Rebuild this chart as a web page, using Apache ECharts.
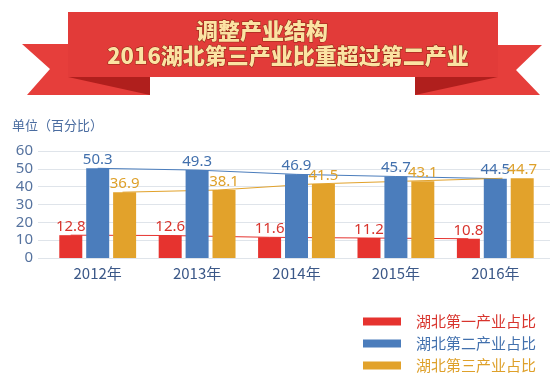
<!DOCTYPE html>
<html>
<head>
<meta charset="utf-8">
<script src="https://cdn.jsdelivr.net/npm/echarts@6/dist/echarts.min.js"></script>
<style>
html,body{margin:0;padding:0;background:#fff;}
#chart{width:550px;height:391px;}
</style>
</head>
<body>
<div id="chart"></div>
<script>
var categories = ['2012年', '2013年', '2014年', '2015年', '2016年'];
var primary = [12.8, 12.6, 11.6, 11.2, 10.8];
var secondary = [50.3, 49.3, 46.9, 45.7, 44.5];
var tertiary = [36.9, 38.1, 41.5, 43.1, 44.7];
var seriesNames = ['湖北第一产业占比', '湖北第二产业占比', '湖北第三产业占比'];
var yTicks = [0, 10, 20, 30, 40, 50, 60];
var titleLine1 = '调整产业结构';
var titleLine2 = '2016湖北第三产业比重超过第二产业';
var unitLabel = '单位（百分比）';

var RED = '#e6332f', BLUE = '#4b7dbc', GOLD = '#e2a22b';
var RED_T = '#d8342d', BLUE_T = '#4270ad', GOLD_T = '#dea02a';
var FONT = '"Noto Sans CJK SC", "Noto Sans", sans-serif';
var NUMFONT = '"Noto Sans", "Noto Sans CJK SC", sans-serif';

var chart = echarts.init(document.getElementById('chart'), null, {renderer: 'canvas'});

var yMin = yTicks[0], yMax = yTicks[yTicks.length - 1];
function hiddenY(i) {
  return {gridIndex: i, type: 'value', min: yMin, max: yMax, show: false};
}
function hiddenX(i) {
  return {gridIndex: i, type: 'category', data: categories, show: false, boundaryGap: true};
}
var barOffset = 27;
var gTop = 151, gBottom = 133, gLeft = 48, gRight = 5;

function barSeries(name, data, color, labelColor) {
  return {
    name: name, type: 'bar', xAxisIndex: 1, yAxisIndex: 1, data: data,
    barWidth: 23, barGap: '17%', z: 3,
    itemStyle: {color: color},
    label: {show: true, position: 'top', distance: 1, color: labelColor,
            fontSize: 15, fontFamily: NUMFONT}
  };
}
function lineSeries(name, data, color, axis) {
  return {
    name: name + '线', type: 'line', xAxisIndex: axis, yAxisIndex: axis, data: data,
    symbol: 'none', z: 1, silent: true,
    lineStyle: {color: color, width: 1}
  };
}

var option = {
  animation: false,
  backgroundColor: '#ffffff',
  grid: [
    {left: 38, right: 0, top: gTop, bottom: gBottom},
    {left: gLeft, right: gRight, top: gTop, bottom: gBottom},
    {left: gLeft - barOffset, right: gRight + barOffset, top: gTop, bottom: gBottom},
    {left: gLeft + barOffset, right: gRight - barOffset, top: gTop, bottom: gBottom}
  ],
  xAxis: [
    {gridIndex: 0, type: 'value', min: 0, max: 1, show: false},
    {gridIndex: 1, type: 'category', data: categories, boundaryGap: true,
     axisLine: {show: false}, axisTick: {show: false},
     axisLabel: {color: '#3b5888', fontSize: 15, margin: 8, fontFamily: FONT}},
    hiddenX(2),
    hiddenX(3)
  ],
  yAxis: [
    {gridIndex: 0, type: 'value', min: yMin, max: yMax, interval: 10,
     axisLine: {show: false}, axisTick: {show: false},
     axisLabel: {color: '#56739f', fontSize: 15, margin: 5, fontFamily: NUMFONT},
     splitLine: {lineStyle: {color: '#dfe4ea', width: 1}}},
    hiddenY(1), hiddenY(2), hiddenY(3)
  ],
  legend: {
    orient: 'vertical', left: 363, top: 314, padding: 0, itemWidth: 38, itemHeight: 8, itemGap: 7,
    icon: 'rect',
    data: [
      {name: seriesNames[0], textStyle: {color: RED_T}},
      {name: seriesNames[1], textStyle: {color: BLUE_T}},
      {name: seriesNames[2], textStyle: {color: GOLD_T}}
    ],
    textStyle: {fontSize: 15, fontFamily: FONT, padding: [0, 0, 0, 10]}
  },
  series: [
    lineSeries(seriesNames[0], primary, RED, 2),
    lineSeries(seriesNames[1], secondary, BLUE, 1),
    lineSeries(seriesNames[2], tertiary, GOLD, 3),
    barSeries(seriesNames[0], primary, RED, RED_T),
    barSeries(seriesNames[1], secondary, BLUE, BLUE_T),
    barSeries(seriesNames[2], tertiary, GOLD, GOLD_T)
  ],
  graphic: [
    {type: 'polygon', shape: {points: [[22,44],[150,44],[150,95],[27,95],[50,69]]}, style: {fill: '#e63e3b'}, z: 1},
    {type: 'polygon', shape: {points: [[542,45],[415,45],[415,95],[540,95],[516,70]]}, style: {fill: '#e63e3b'}, z: 1},
    {type: 'polygon', shape: {points: [[68,77],[150,77],[150,95]]}, style: {fill: '#b01f1d'}, z: 2},
    {type: 'polygon', shape: {points: [[498,77],[415,77],[415,95]]}, style: {fill: '#b01f1d'}, z: 2},
    {type: 'rect', shape: {x: 68, y: 12, width: 430, height: 65}, style: {fill: '#e23b39'}, z: 3},
    {type: 'text', x: 262, y: 31, z: 5,
     style: {text: titleLine1, font: '900 22px ' + FONT, fill: '#fbe3a3', textAlign: 'center', textVerticalAlign: 'middle',
             stroke: '#8a2612', lineWidth: 1, shadowColor: 'rgba(70,10,5,0.8)', shadowOffsetX: 1, shadowOffsetY: 2, shadowBlur: 1}},
    {type: 'text', x: 288, y: 56, z: 5,
     style: {text: titleLine2, font: '900 22px ' + FONT, fill: '#fbe3a3', textAlign: 'center', textVerticalAlign: 'middle',
             stroke: '#8a2612', lineWidth: 1, shadowColor: 'rgba(70,10,5,0.8)', shadowOffsetX: 1, shadowOffsetY: 2, shadowBlur: 1}},
    {type: 'text', x: 12, y: 125, z: 5,
     style: {text: unitLabel, font: '13px ' + FONT, fill: '#4a6ca0', textAlign: 'left', textVerticalAlign: 'middle'}}
  ]
};
chart.setOption(option);
</script>
</body>
</html>
